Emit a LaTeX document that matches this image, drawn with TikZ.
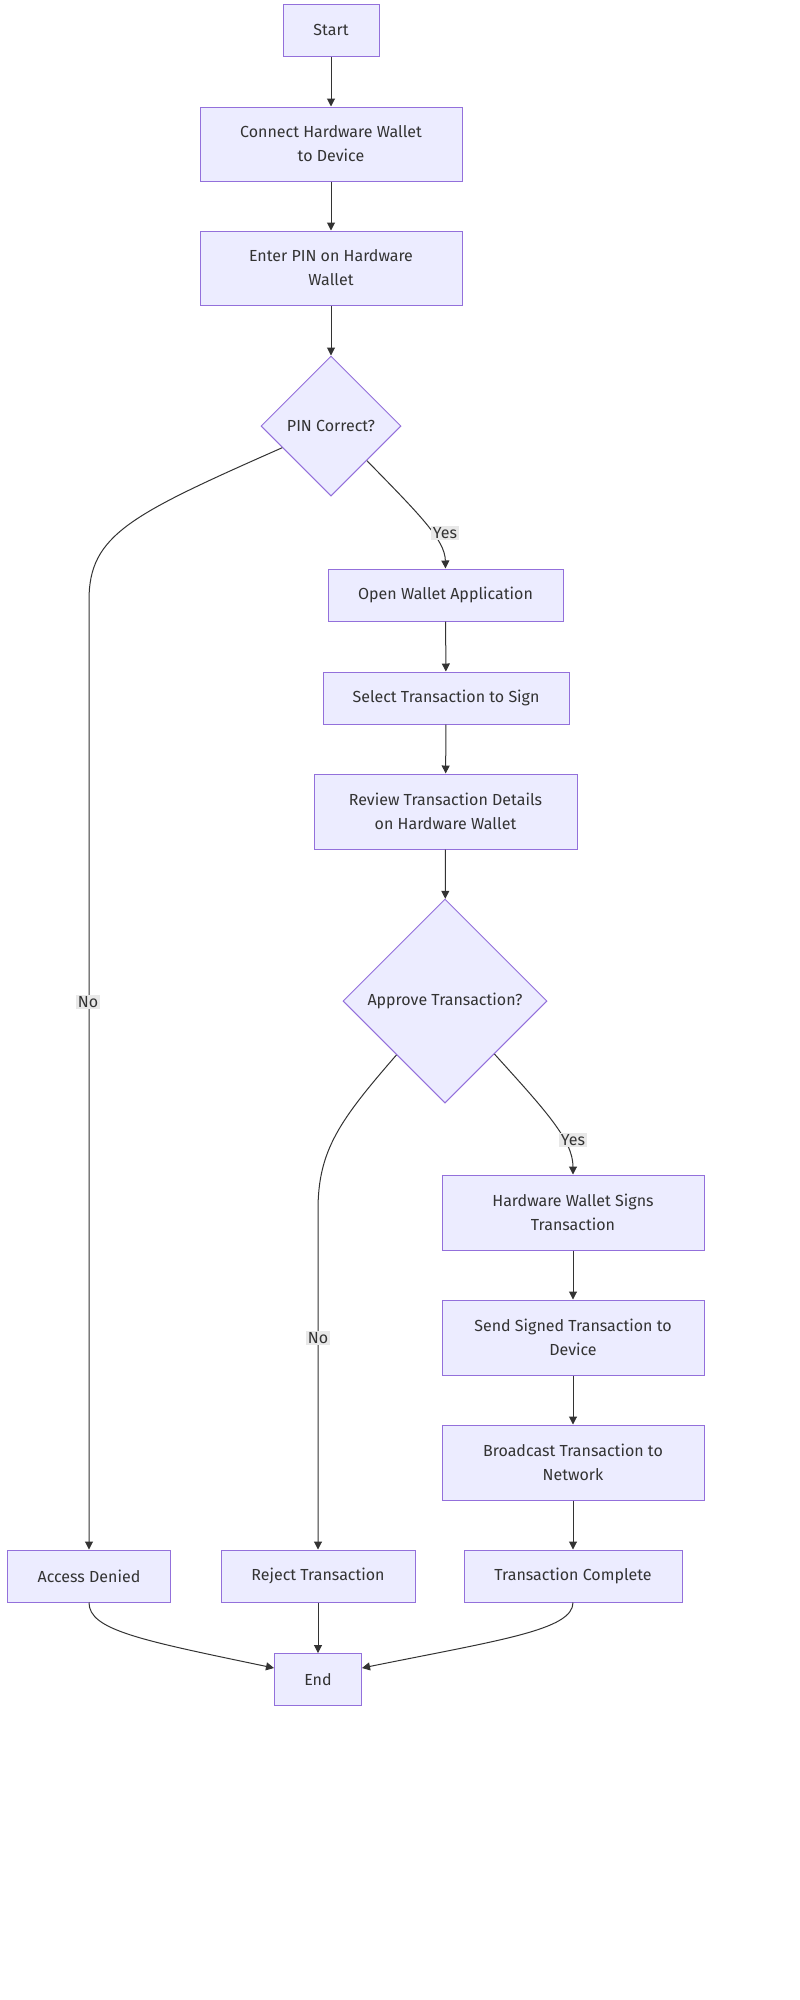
\documentclass[tikz,border=0pt]{standalone}
\usepackage{fontspec}
\setmainfont{Fira Sans}
\usetikzlibrary{shapes.geometric,arrows.meta,calc}
\definecolor{nodefill}{HTML}{ECECFF}
\definecolor{nodeline}{HTML}{9370DB}
\definecolor{edgeline}{HTML}{333333}
\definecolor{txt}{HTML}{333333}
\definecolor{lblbg}{HTML}{E8E8E8}
\begin{document}
\begin{tikzpicture}[x=1pt,y=-1pt,
  every node/.style={font=\fontsize{16}{24}\selectfont, text=txt},
  box/.style={draw=nodeline, fill=nodefill, line width=1pt, rectangle, align=center, inner sep=0pt},
  dia/.style={draw=nodeline, fill=nodefill, line width=1pt, diamond, aspect=1, inner sep=0pt, align=center},
  edge/.style={draw=edgeline, line width=1pt, -{Triangle[length=8pt,width=8pt]}},
  lbl/.style={fill=lblbg, inner sep=1.5pt, font=\fontsize{16}{19}\selectfont}
]
\useasboundingbox[fill=white] (0,0) rectangle (800,2000);

\node[box, minimum width=96pt, minimum height=52pt] (start) at (331,30) {Start};
\node[box, minimum width=262pt, minimum height=74pt] (connect) at (331,144) {Connect Hardware Wallet\\to Device};
\node[box, minimum width=262pt, minimum height=74pt] (pin) at (331,268) {Enter PIN on Hardware\\Wallet};
\node[dia, minimum width=140pt, minimum height=140pt] (pinq) at (331,426) {PIN Correct?};
\node[box, minimum width=235pt, minimum height=52pt] (open) at (445.5,595) {Open Wallet Application};
\node[box, minimum width=246pt, minimum height=52pt] (select) at (446,698) {Select Transaction to Sign};
\node[box, minimum width=263pt, minimum height=75pt] (review) at (445.5,811.5) {Review Transaction Details\\on Hardware Wallet};
\node[dia, minimum width=204pt, minimum height=204pt] (appq) at (445,1001) {Approve Transaction?};
\node[box, minimum width=262pt, minimum height=75pt] (signs) at (573,1212.5) {Hardware Wallet Signs\\Transaction};
\node[box, minimum width=262pt, minimum height=75pt] (send) at (573,1337.5) {Send Signed Transaction to\\Device};
\node[box, minimum width=262pt, minimum height=75pt] (bcast) at (573,1462.5) {Broadcast Transaction to\\Network};
\node[box, minimum width=163pt, minimum height=52pt] (denied) at (89,1576) {Access Denied};
\node[box, minimum width=194pt, minimum height=52pt] (reject) at (318,1576) {Reject Transaction};
\node[box, minimum width=218pt, minimum height=52pt] (complete) at (573,1576) {Transaction Complete};
\node[box, minimum width=87pt, minimum height=52pt] (endn) at (318,1679.5) {End};

\draw[edge] (start) -- (connect);
\draw[edge] (connect) -- (pin);
\draw[edge] (pin) -- (pinq);
\draw[edge] (pinq.204.6) .. controls (130,515) and (89,535) .. (89,600) -- (denied.north);
\draw[edge] (pinq.-44) .. controls (420,515) and (445,540) .. (open.north);
\draw[edge] (open) -- (select);
\draw[edge] (select) -- (review);
\draw[edge] (review) -- (appq);
\draw[edge] (appq.228.4) .. controls (340,1120) and (318,1150) .. (318,1210) -- (reject.north);
\draw[edge] (appq.-47.2) .. controls (545,1110) and (573,1140) .. (signs.north);
\draw[edge] (signs) -- (send);
\draw[edge] (send) -- (bcast);
\draw[edge] (bcast) -- (complete);
\draw[edge] (denied.south) .. controls (89,1630) and (140,1640) .. ([yshift=11.5pt]endn.west);
\draw[edge] (reject) -- (endn);
\draw[edge] (complete.south) .. controls (573,1630) and (500,1640) .. ([yshift=11.5pt]endn.east);

\node[lbl] (lno1) at (88,1002) {No};
\node[lbl] (lyes1) at (445,533) {Yes};
\node[lbl] (lno2) at (318,1338) {No};
\node[lbl] (lyes2) at (573,1140) {Yes};
\end{tikzpicture}
\end{document}
